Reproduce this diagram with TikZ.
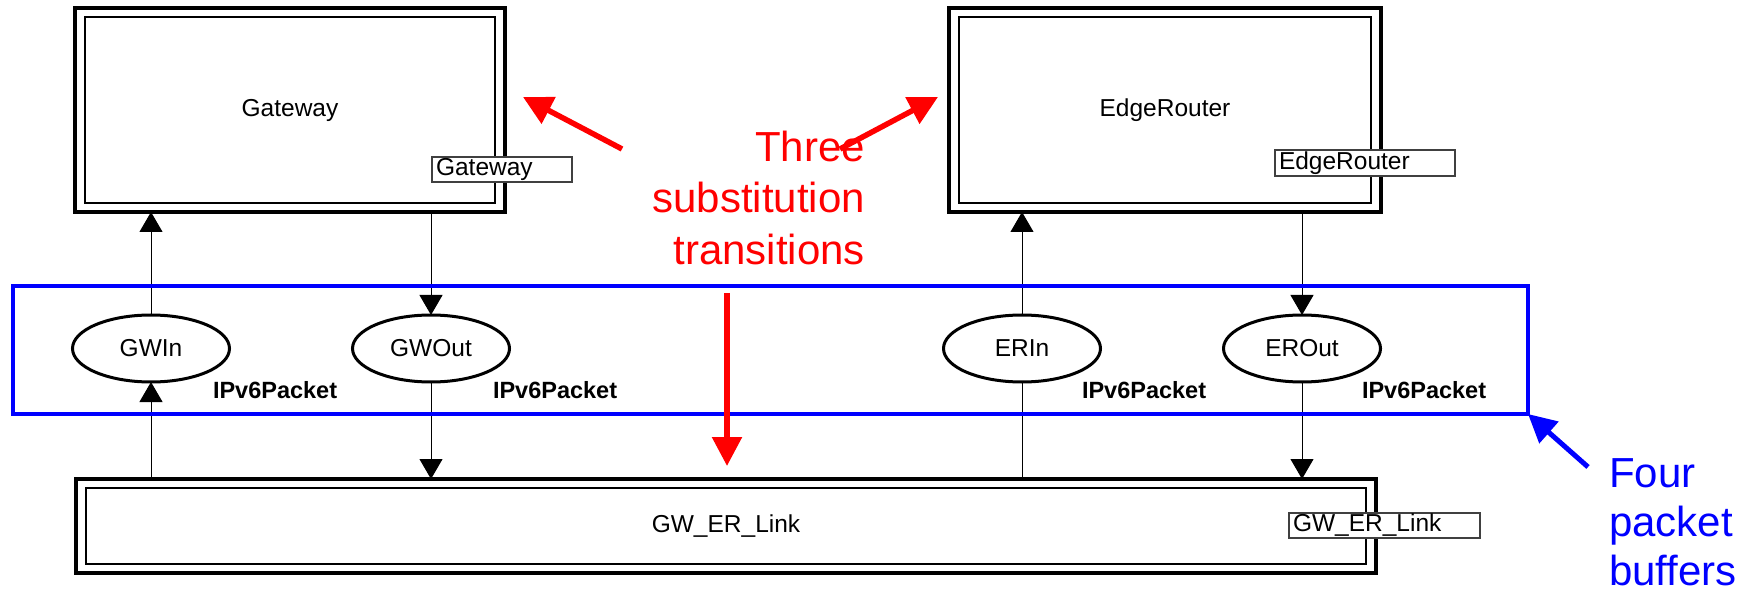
\documentclass[tikz,border=0pt]{standalone}
\usepackage{fontspec}
\setmainfont{Liberation Sans}
\usetikzlibrary{arrows.meta,shapes.geometric}
\begin{document}
\begin{tikzpicture}[x=1pt,y=-1pt,
  every node/.style={outer sep=0pt},
  subst/.style={draw, line width=3.8pt, inner sep=0pt, font=\fontsize{24.5}{29}\selectfont},
  inner frame/.style={line width=2.2pt},
  tag/.style={draw=black!75, line width=1.2pt, fill=white, inner xsep=4pt, inner ysep=0pt,
              anchor=west, font=\fontsize{24.5}{29}\selectfont},
  place/.style={ellipse, draw, line width=3pt, minimum width=157pt, minimum height=67pt,
                inner sep=0pt, font=\fontsize{24.5}{29}\selectfont},
  colset/.style={anchor=base west, inner sep=0pt, font=\bfseries\fontsize{23.5}{28}\selectfont},
  arc/.style={line width=1pt, -{Triangle[width=23pt,length=20pt]}},
  plainarc/.style={line width=1pt},
  buffers/.style={draw=blue, line width=3.5pt, inner sep=0pt},
  note/.style={inner sep=0pt, font=\fontsize{42}{50}\selectfont},
  redarrow/.style={red, line width=5.5pt, -{Triangle[width=29pt,length=29pt]}},
  bluearrow/.style={blue, line width=5pt, -{Triangle[width=28pt,length=28pt]}},
]
\useasboundingbox (0,0) rectangle (1755,593);

% substitution transitions (double-framed boxes)
\node[subst, minimum width=430pt, minimum height=204pt] (gw) at (290,110) {Gateway};
\node[subst, minimum width=432pt, minimum height=204pt] (er) at (1165,110) {EdgeRouter};
\node[subst, minimum width=1300pt, minimum height=94pt] (link) at (726,526) {GW\_ER\_Link};
\foreach \n in {gw,er,link}
  \draw[inner frame] ([shift={(10,9)}]\n.north west) rectangle ([shift={(-10,-9)}]\n.south east);

% places
\node[place] (gwin)  at (151,348.5)  {GWIn};
\node[place] (gwout) at (431,348.5)  {GWOut};
\node[place] (erin)  at (1022,348.5) {ERIn};
\node[place] (erout) at (1302,348.5) {EROut};

% colour sets
\node[colset] (cs1) at (213,398)  {IPv6Packet};
\node[colset] (cs2) at (493,398)  {IPv6Packet};
\node[colset] (cs3) at (1082,398) {IPv6Packet};
\node[colset] (cs4) at (1362,398) {IPv6Packet};

% arcs
\draw[arc] (gwin.north) -- (gwin.north |- gw.south);
\draw[arc] (gwout.north |- gw.south) -- (gwout.north);
\draw[arc] (gwin.south |- link.north) -- (gwin.south);
\draw[arc] (gwout.south) -- (gwout.south |- link.north);
\draw[plainarc] (erin.south |- link.north) -- (erin.south);
\draw[arc] (erin.north) -- (erin.north |- er.south);
\draw[arc] (erout.north |- er.south) -- (erout.north);
\draw[arc] (erout.south) -- (erout.south |- link.north);

% subpage tags
\node[tag, minimum height=25pt] (gwtag)   at (432,169.5)  {\makebox[132pt][l]{Gateway}};
\node[tag, minimum height=26pt] (ertag)   at (1275,163)   {\makebox[172pt][l]{EdgeRouter}};
\node[tag, minimum height=25pt] (linktag) at (1289,525.5) {\makebox[183pt][l]{GW\_ER\_Link}};

% frame around the four buffers
\node[buffers, minimum width=1515pt, minimum height=128pt] (buf) at (770.5,350) {};

% red annotation
\node[note, red, anchor=base east] (three1) at (865,162) {Three};
\node[note, red, anchor=base east] (three2) at (865,213) {substitution};
\node[note, red, anchor=base east] (three3) at (865,265) {transitions};
\coordinate (ra1) at (622,149);
\coordinate (ra1tip) at (523,97);
\coordinate (ra2) at (840,149);
\coordinate (ra2tip) at (938,97);
\coordinate (ra3) at (727,293);
\coordinate (ra3tip) at (727,466);
\draw[redarrow] (ra1) -- (ra1tip);
\draw[redarrow] (ra2) -- (ra2tip);
\draw[redarrow] (ra3) -- (ra3tip);

% blue annotation
\node[note, blue, anchor=base west] (four1) at (1609,487) {Four};
\node[note, blue, anchor=base west] (four2) at (1609,536) {packet};
\node[note, blue, anchor=base west] (four3) at (1609,585) {buffers};
\coordinate (ba) at (1588,467);
\draw[bluearrow] (ba) -- (buf.south east);
\end{tikzpicture}
\end{document}
